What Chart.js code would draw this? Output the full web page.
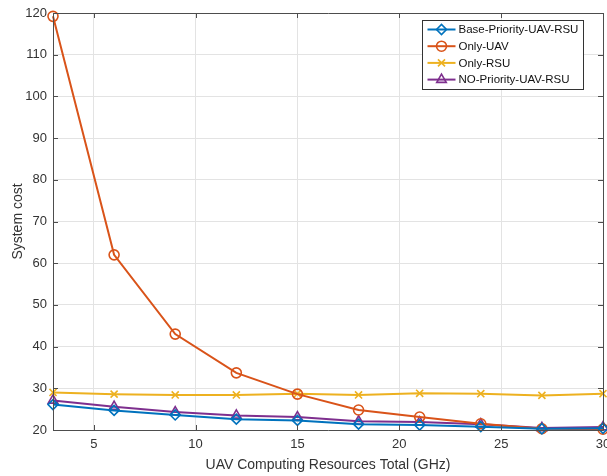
<!DOCTYPE html>
<html><head><meta charset="utf-8">
<script src="https://cdn.jsdelivr.net/npm/chart.js@4/dist/chart.umd.min.js"></script>
<style>html,body{margin:0;padding:0;background:#fff;}#wrap{width:607px;height:476px;}</style>
</head><body><div id="wrap"><canvas id="c" width="607" height="476"></canvas></div>
<script>
const xValues = [3, 6, 9, 12, 15, 18, 21, 24, 27, 30];
const basePriority = [26.1, 24.7, 23.6, 22.6, 22.3, 21.4, 21.2, 20.8, 20.3, 20.4];
const onlyUAV = [119.2, 62.0, 43.0, 33.7, 28.6, 24.8, 23.1, 21.5, 20.3, 20.2];
const onlyRSU = [29.0, 28.6, 28.4, 28.4, 28.7, 28.4, 28.8, 28.7, 28.3, 28.7];
const noPriority = [27.1, 25.6, 24.3, 23.5, 23.1, 22.1, 21.9, 21.4, 20.5, 20.7];
const xTicks = [5, 10, 15, 20, 25, 30];
const seriesNames = ['Base-Priority-UAV-RSU', 'Only-UAV', 'Only-RSU', 'NO-Priority-UAV-RSU'];

const colors = ['#0072BD', '#D95319', '#EDB120', '#7E2F8E'];
const styles = ['rectRot', 'circle', 'crossRot', 'triangle'];
const radii = [5, 5, 5, 5.5];
const allSeries = [basePriority, onlyUAV, onlyRSU, noPriority];
const FONT = '"Liberation Sans", Arial, sans-serif';

const datasets = allSeries.map((vals, i) => ({
  label: seriesNames[i],
  data: xValues.map((x, j) => ({x: x, y: vals[j]})),
  borderColor: colors[i],
  backgroundColor: 'rgba(0,0,0,0)',
  pointBackgroundColor: 'rgba(0,0,0,0)',
  pointBorderColor: colors[i],
  pointBorderWidth: 1.6,
  pointStyle: styles[i],
  pointRadius: radii[i],
  borderWidth: 2,
  tension: 0,
  clip: false
}));

const boxPlugin = {
  id: 'boxPlugin',
  afterDraw(chart) {
    const ctx = chart.ctx, a = chart.chartArea;
    const xs = chart.scales.x, ys = chart.scales.y;
    ctx.save();
    ctx.strokeStyle = '#4d4d4d';
    ctx.lineWidth = 1;
    ctx.beginPath();
    ctx.rect(Math.round(a.left)+0.5, Math.round(a.top)+0.5, Math.round(a.right-a.left), Math.round(a.bottom-a.top));
    ctx.stroke();
    const tl = 5;
    ctx.beginPath();
    xTicks.forEach(t => {
      const px = Math.round(xs.getPixelForValue(t)) + 0.5;
      ctx.moveTo(px, a.bottom); ctx.lineTo(px, a.bottom - tl);
      ctx.moveTo(px, a.top); ctx.lineTo(px, a.top + tl);
    });
    for (let v = 20; v <= 120; v += 10) {
      const py = Math.round(ys.getPixelForValue(v)) + 0.5;
      ctx.moveTo(a.left, py); ctx.lineTo(a.left + tl, py);
      ctx.moveTo(a.right, py); ctx.lineTo(a.right - tl, py);
    }
    ctx.stroke();

    // legend
    const lx = 422.5, ly = 20.5, lw = 161, lh = 69;
    ctx.fillStyle = '#fff';
    ctx.fillRect(lx, ly, lw, lh);
    ctx.strokeStyle = '#333';
    ctx.lineWidth = 1;
    ctx.strokeRect(lx, ly, lw, lh);
    ctx.font = '11.5px ' + FONT;
    ctx.textBaseline = 'middle';
    ctx.textAlign = 'left';
    seriesNames.forEach((name, i) => {
      const y = ly + 9 + i * 16.7;
      ctx.strokeStyle = colors[i];
      ctx.lineWidth = 2;
      ctx.beginPath(); ctx.moveTo(lx + 5, y); ctx.lineTo(lx + 33, y); ctx.stroke();
      ctx.lineWidth = 1.6;
      ctx.fillStyle = 'rgba(0,0,0,0)';
      Chart.helpers.drawPoint(ctx, {pointStyle: styles[i], radius: radii[i], borderWidth: 1.6}, lx + 19, y);
      ctx.fillStyle = '#111';
      ctx.fillText(name, lx + 36, y + 0.5);
    });
    ctx.restore();
  }
};

new Chart(document.getElementById('c'), {
  type: 'line',
  data: { datasets },
  options: {
    responsive: false,
    animation: false,
    devicePixelRatio: 1,
    layout: { autoPadding: false, padding: { top: 13, right: 4, left: 0, bottom: 0 } },
    plugins: { legend: { display: false }, tooltip: { enabled: false } },
    scales: {
      x: {
        type: 'linear', min: 3, max: 30,
        afterBuildTicks: s => { s.ticks = xTicks.map(v => ({value: v})); },
        afterFit: s => { s.paddingRight = 0; s.paddingLeft = 0; s.height = 46; },
        grid: { color: '#e3e3e3', drawTicks: false, lineWidth: 1 },
        border: { display: false },
        ticks: { font: { family: FONT, size: 13 }, color: '#333', padding: 7, maxRotation: 0 },
        title: { display: true, text: 'UAV Computing Resources Total (GHz)', font: { family: FONT, size: 14 }, color: '#333', padding: { top: 2, bottom: 2 } }
      },
      y: {
        min: 20, max: 120,
        ticks: { stepSize: 10, font: { family: FONT, size: 13 }, color: '#333', padding: 6 },
        afterFit: s => { s.width = 53; s.paddingTop = 0; s.paddingBottom = 0; },
        grid: { color: '#e3e3e3', drawTicks: false, lineWidth: 1 },
        border: { display: false },
        title: { display: true, text: 'System cost', font: { family: FONT, size: 14 }, color: '#333', padding: { top: 10, bottom: 0 } }
      }
    }
  },
  plugins: [boxPlugin]
});
</script>
</body></html>
